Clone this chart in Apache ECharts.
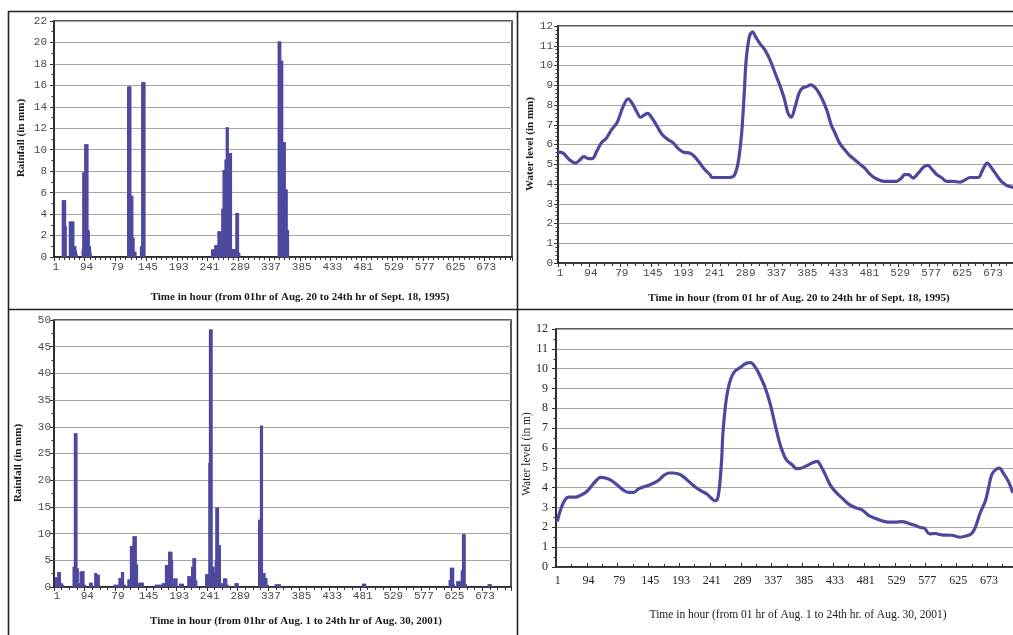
<!DOCTYPE html>
<html>
<head>
<meta charset="utf-8">
<script src="https://cdn.jsdelivr.net/npm/echarts@6/dist/echarts.min.js"></script>
<style>
html,body{margin:0;padding:0;background:#fff;}
#c{width:1013px;height:635px;}
</style>
</head>
<body>
<div id="c"></div>
<script>
// Tick labels on the hour axes (as printed in the reference)
const hourLabels = ['1','94','79','145','193','241','289','337','385','433','481','529','577','625','673'];

// Hourly rainfall, Aug 20 - Sept 18, 1995: [first hour, hourly values...]
const rain1995 = [
  [13,  [5.3,5.3,5.3,5.3,5.3,5.3,2.9]],
  [24,  [3.3,3.3,3.3,3.3,3.3,3.3,3.3,3.3,1.0,1.0,1.0,0.6,0.3]],
  [44,  [0.7,7.9,7.9,7.9,10.5,10.5,10.5,10.5,10.5,10.5,2.5,2.5,1.0,1.0,0.4]],
  [115, [15.9,15.9,15.9,15.9,15.9,15.9,5.7,5.7,5.7,1.8,1.8,0.5,0.5,0.5]],
  [135, [1.0,1.0,16.3,16.3,16.3,16.3,16.3,16.3]],
  [246, [0.7,0.7,0.7,0.7,0.7,1.1,1.1,1.1,1.1,1.1,2.4,2.4,2.4,2.4,2.4,2.4,4.5,4.5,8.1,8.1,8.1,9.1,9.1,12.1,12.1,12.1,12.1,9.7,9.7,9.7,9.7,9.7,0.75,0.75,0.75,0.75,0.75,0.75,4.1,4.1,4.1,4.1,4.1,0.4,0.4]],
  [350, [20.1,20.1,20.1,20.1,20.1,18.3,18.3,18.3,10.7,10.7,10.7,10.7,6.3,6.3,6.3,2.5,2.5]]
];

// Hourly rainfall, Aug 1 - Aug 30, 2001: [first hour, hourly values...]
const rain2001 = [
  [2,   [1.8,1.8,1.8,1.8,2.8,2.8,2.8,2.8,2.8,0.7,0.7,0.7,0.4,0.4]],
  [30,  [3.8,3.8,28.8,28.8,28.8,28.8,28.8,3.5,3.5,0.7,0.7,2.9,2.9,2.9,2.9,3.0,3.0,3.0,0.4,0.4]],
  [56,  [0.8,0.8,0.8,0.8,0.8]],
  [64,  [2.6,2.6,2.6,2.6,2.3,2.3,2.3,2.3,0.3]],
  [94,  [0.4,0.4,0.4,0.4,0.4,0.4,0.4,0.4,1.7,1.7,1.7,1.7,2.8,2.8,2.8,2.8,0.4,0.4,0.4]],
  [116, [1.4,1.4,1.4,1.4,7.7,7.7,7.7,7.7,9.5,9.5,9.5,9.5,9.5,9.5,4.2,4.2,0.7,0.7,0.8,0.8,0.8,0.8,0.8,0.8,0.8]],
  [159, [0.4,0.4,0.4,0.4,0.4,0.4,0.4,0.4,0.4,0.4,0.4,0.7,0.7,0.7,0.7,0.7,4.1,4.1,4.1,4.1,4.1,6.6,6.6,6.6,6.6,6.6,6.6,5.0,0.3,1.6,1.6,1.6,1.6,1.6,1.6]],
  [197, [0.6,0.6,0.6,0.6,0.6,0.6,0.6]],
  [210, [2.0,2.0,2.0,2.0,2.0,2.0,3.8,3.8,5.4,5.4,5.4,5.4,5.4,1.2,1.2]],
  [238, [2.4,2.4,2.4,2.4,2.4,23.2,48.2,48.2,48.2,48.2,48.2,3.8,3.8,3.8,2.6,5.0,14.9,14.9,14.9,14.9,14.9,7.8,7.8,7.8,0.7,0.7,0.7,0,1.6,1.6,1.6,1.6,1.6,1.6,0.4,0.4]],
  [284, [0.7,0.7,0.7,0.7,0.7,0.7]],
  [321, [12.6,12.6,12.6,30.2,30.2,30.2,30.2,2.6,2.6,2.6,2.6,1.7,1.7,1.7,0.4,0.4]],
  [347, [0.5,0.5,0.5,0.5,0.5,0.5,0.5,0.5,0.5]],
  [484, [0.6,0.6,0.6,0.6,0.6,0.6]],
  [620, [1.3,1.3,3.6,3.6,3.6,3.6,3.6,3.6,0.5,0,0,0,1.1,1.1,1.1,1.1,1.1,1.1,1.1,3.1,3.1,9.9,9.9,9.9,9.9,9.9,0.5,0.5]],
  [681, [0.5,0.5,0.5,0.5,0.5,0.5]]
];

// Water level 1995: [hour, level]
const level1995 = [
  [0,5.61],[8,5.56],[18,5.22],[27,5.06],[34,5.22],[40,5.39],[47,5.28],[53,5.28],[60,5.65],[67,6.07],
  [75,6.32],[83,6.74],[92,7.13],[101,7.92],[109,8.31],[115,8.09],[122,7.67],[128,7.38],[134,7.5],[139,7.58],
  [146,7.33],[154,6.91],[162,6.49],[171,6.24],[179,6.07],[187,5.78],[195,5.61],[205,5.56],[212,5.39],[220,5.06],
  [228,4.72],[236,4.47],[239,4.33],[248,4.33],[264,4.33],[272,4.38],[277,4.72],[281,5.39],[285,6.57],[289,8.6],
  [292,10.28],[297,11.46],[302,11.71],[306,11.49],[313,11.12],[321,10.79],[329,10.28],[336,9.69],[344,9.02],[351,8.34],
  [357,7.58],[362,7.38],[368,7.92],[374,8.6],[379,8.85],[386,8.93],[392,9.02],[400,8.85],[408,8.43],[417,7.75],
  [424,6.99],[430,6.57],[437,6.07],[445,5.73],[453,5.43],[461,5.22],[468,5.02],[476,4.80],[484,4.50],[492,4.30],
  [502,4.16],[512,4.13],[525,4.13],[533,4.30],[538,4.47],[544,4.47],[551,4.30],[559,4.55],[567,4.85],[574,4.94],
  [580,4.75],[588,4.47],[595,4.33],[603,4.13],[613,4.13],[624,4.10],[632,4.21],[639,4.33],[652,4.33],[659,4.72],
  [666,5.06],[673,4.80],[681,4.43],[688,4.13],[696,3.93],[706,3.83],[712,3.80]
];

// Water level 2001: [hour, level]
const level2001 = [
  [2,2.29],[7,2.88],[14,3.39],[20,3.52],[30,3.52],[38,3.61],[48,3.81],[57,4.15],[64,4.40],[69,4.52],
  [77,4.49],[86,4.37],[95,4.15],[104,3.90],[113,3.76],[121,3.76],[129,3.95],[139,4.06],[150,4.20],[159,4.35],
  [168,4.62],[176,4.74],[183,4.74],[194,4.65],[204,4.40],[214,4.11],[225,3.86],[235,3.68],[243,3.44],[247,3.34],
  [251,3.39],[254,3.81],[258,5.33],[260,6.68],[264,8.11],[268,8.95],[273,9.54],[279,9.88],[287,10.05],[295,10.25],
  [303,10.30],[311,10.05],[318,9.63],[326,9.04],[334,8.20],[342,7.10],[349,6.21],[356,5.58],[361,5.33],[368,5.16],
  [375,4.96],[383,4.99],[391,5.11],[399,5.24],[407,5.33],[413,5.08],[421,4.57],[427,4.15],[435,3.81],[446,3.47],
  [456,3.17],[466,3.00],[477,2.88],[487,2.60],[497,2.46],[508,2.33],[518,2.26],[529,2.26],[539,2.29],[549,2.21],
  [560,2.09],[568,1.99],[574,1.96],[582,1.67],[591,1.69],[601,1.62],[617,1.60],[630,1.50],[640,1.57],[648,1.70],
  [654,2.04],[661,2.72],[669,3.31],[674,3.98],[679,4.65],[685,4.91],[691,4.99],[697,4.74],[705,4.32],[712,3.73]
];

// Texts
const titles = {
  tlY: 'Rainfall (in mm)',
  tlX: 'Time in hour (from 01hr of Aug. 20 to 24th hr of Sept. 18, 1995)',
  trY: 'Water level (in mm)',
  trX: 'Time in hour (from 01 hr of Aug. 20 to 24th hr of Sept. 18, 1995)',
  blY: 'Rainfall (in mm)',
  blX: 'Time in hour (from 01hr of Aug. 1 to 24th hr of Aug. 30, 2001)',
  brY: 'Water level (in m)',
  brX: 'Time in hour (from 01 hr of Aug. 1 to 24th hr. of Aug. 30, 2001)'
};

function expand(clusters) {
  const out = [];
  clusters.forEach(function (c) {
    c[1].forEach(function (v, i) { if (v > 0) out.push([c[0] + i, v]); });
  });
  return out;
}

function hourFmt(v) {
  const i = Math.round(v / 48);
  if (Math.abs(v - i * 48) < 1e-6 && i < hourLabels.length) return hourLabels[i];
  return '';
}

const MONO = '"Liberation Mono", "DejaVu Sans Mono", monospace';
const SERIF = '"Liberation Serif", "DejaVu Serif", serif';
const INK = '#222';
const BLUE = '#4d489e';

function xAx(gi, max, minorSplit, o) {
  return {
    type: 'value', gridIndex: gi, min: 0, max: max, interval: 48,
    axisLine: { show: true, onZero: false, lineStyle: { color: INK, width: 1.5 } },
    axisTick: { show: true, length: 4, inside: !!o.inside, lineStyle: { color: '#333' } },
    minorTick: { show: true, splitNumber: minorSplit, length: 3, lineStyle: { color: '#333' } },
    axisLabel: { formatter: hourFmt, fontFamily: o.font, fontSize: o.size, color: o.color, margin: o.margin, padding: [0, 0, 0, o.pad] },
    splitLine: { show: false }
  };
}
function yAx(gi, max, interval, minorSplit, o) {
  return {
    type: 'value', gridIndex: gi, min: 0, max: max, interval: interval,
    axisLine: { show: true, lineStyle: { color: INK, width: 1.5 } },
    axisTick: { show: true, length: 4, lineStyle: { color: '#333' } },
    minorTick: { show: true, splitNumber: minorSplit, length: 2.5, lineStyle: { color: '#333' } },
    axisLabel: { fontFamily: o.font, fontSize: o.size, color: o.color, margin: o.margin },
    splitLine: { show: true, lineStyle: { color: '#aaa3a3', width: 1 } }
  };
}

const monoOpt = { font: MONO, size: 11, color: '#4a4a4a' };
const serifOpt = { font: SERIF, size: 12, color: '#222' };

function txt(x, y, text, font, rot) {
  return {
    type: 'text', x: x, y: y, rotation: rot ? Math.PI / 2 : 0, z: 100,
    style: { text: text, font: font, fill: '#1a1a1a', align: 'center', verticalAlign: 'middle' }
  };
}
function ln(x1, y1, x2, y2) {
  return { type: 'line', z: 100, shape: { x1: x1, y1: y1, x2: x2, y2: y2 }, style: { stroke: INK, lineWidth: 1.6 } };
}
function gridAt(left, top, width, height) {
  return {
    left: left, top: top, width: width, height: height,
    show: true, borderColor: INK, borderWidth: 1.5, backgroundColor: 'transparent',
    containLabel: false, outerBoundsMode: 'none'
  };
}

const BOLD = 'bold 11px ' + SERIF;
const REG = '11.5px ' + SERIF;

const chart = echarts.init(document.getElementById('c'), null, { renderer: 'canvas' });
chart.setOption({
  animation: false,
  backgroundColor: '#fff',
  grid: [
    gridAt(54, 21, 458, 236),
    gridAt(558, 26, 464, 237),
    gridAt(54, 320, 457, 267),
    gridAt(556, 329, 462, 238)
  ],
  xAxis: [
    xAx(0, 715, 6, Object.assign({ margin: 5, pad: 3.5 }, monoOpt)),
    xAx(1, 720, 4, Object.assign({ margin: 5, pad: 4 }, monoOpt)),
    xAx(2, 717, 4, Object.assign({ margin: 4, pad: 5.5 }, monoOpt)),
    xAx(3, 720, 2, Object.assign({ margin: 8, pad: 3.5, inside: true }, serifOpt))
  ],
  yAxis: [
    yAx(0, 22, 2, 2, Object.assign({ margin: 7 }, monoOpt)),
    yAx(1, 12, 1, 5, Object.assign({ margin: 5 }, monoOpt)),
    yAx(2, 50, 5, 2, Object.assign({ margin: 3 }, monoOpt)),
    yAx(3, 12, 1, 2, Object.assign({ margin: 8 }, serifOpt))
  ],
  series: [
    { type: 'bar', xAxisIndex: 0, yAxisIndex: 0, data: expand(rain1995), barWidth: 1.3, itemStyle: { color: BLUE }, z: 3 },
    { type: 'line', xAxisIndex: 1, yAxisIndex: 1, data: level1995, smooth: 0.35, showSymbol: false, lineStyle: { color: BLUE, width: 3.2 }, z: 3 },
    { type: 'bar', xAxisIndex: 2, yAxisIndex: 2, data: expand(rain2001), barWidth: 1.3, itemStyle: { color: BLUE }, z: 3 },
    { type: 'line', xAxisIndex: 3, yAxisIndex: 3, data: level2001, smooth: 0.35, showSymbol: false, lineStyle: { color: BLUE, width: 3.2 }, z: 3 }
  ],
  graphic: [
    ln(8, 11.5, 1013, 11.5),
    ln(8.5, 11, 8.5, 635),
    ln(517.5, 11, 517.5, 635),
    ln(8, 309.5, 1013, 309.5),
    txt(21, 138, titles.tlY, BOLD, true),
    txt(300, 297, titles.tlX, BOLD, false),
    txt(530, 144, titles.trY, BOLD, true),
    txt(799, 298, titles.trX, BOLD, false),
    txt(18.5, 463, titles.blY, BOLD, true),
    txt(296, 621, titles.blX, BOLD, false),
    txt(527, 454, titles.brY, REG, true),
    txt(798, 615, titles.brX, REG, false)
  ]
});
</script>
</body>
</html>
